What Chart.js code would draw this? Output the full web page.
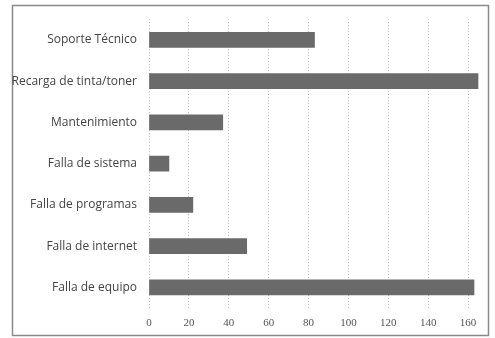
<!DOCTYPE html>
<html>
<head>
<meta charset="utf-8">
<script src="https://cdn.jsdelivr.net/npm/chart.js@4/dist/chart.umd.min.js"></script>
<style>
  html, body { margin: 0; padding: 0; background: #fff; }
  #wrap { position: relative; width: 495px; height: 338px; }
</style>
</head>
<body>
<div id="wrap"><canvas id="grafico" width="495" height="338"></canvas></div>
<script>
// categorias (de arriba hacia abajo)
var categorias = ["Soporte Técnico", "Recarga de tinta/toner", "Mantenimiento", "Falla de sistema", "Falla de programas", "Falla de internet", "Falla de equipo"];
// valores de cada categoria
var valores = [83, 165, 37, 10, 22, 49, 163];
// etiquetas del eje x
var ticksX = [0, 20, 40, 60, 80, 100, 120, 140, 160];

// marco alrededor del grafico
var marco = {
  id: 'marco',
  beforeDraw: function (chart) {
    var ctx = chart.ctx;
    ctx.save();
    ctx.fillStyle = '#fff';
    ctx.fillRect(0, 0, chart.width, chart.height);
    ctx.strokeStyle = '#8a8a8a';
    ctx.lineWidth = 1.5;
    ctx.strokeRect(12.5, 5.5, 476, 330);
    ctx.restore();
  }
};

var ctx = document.getElementById("grafico").getContext("2d");
var grafico = new Chart(ctx, {
  type: 'bar',
  data: {
    labels: categorias,
    datasets: [{
      data: valores,
      backgroundColor: '#6a6a6a',
      borderWidth: 0,
      barThickness: 15
    }]
  },
  options: {
    indexAxis: 'y',
    responsive: false,
    animation: false,
    layout: { padding: { left: 0, right: 15, top: 16, bottom: 0 } },
    plugins: {
      legend: { display: false },
      tooltip: { enabled: false }
    },
    scales: {
      x: {
        min: 0,
        max: 166,
        afterBuildTicks: function (axis) {
          axis.ticks = ticksX.map(function (v) { return { value: v }; });
        },
        afterFit: function (axis) { axis.height = 30; },
        grid: {
          color: '#b8b8b8',
          lineWidth: 1,
          drawTicks: false
        },
        border: { display: false, dash: [1, 2] },
        ticks: {
          padding: 9,
          color: '#555',
          font: { family: 'Liberation Serif', size: 11 }
        }
      },
      y: {
        afterFit: function (axis) { axis.width = 149; },
        grid: { display: false, drawTicks: false },
        border: { display: false },
        ticks: {
          padding: 12,
          color: '#444',
          font: { family: 'Open Sans', size: 12 }
        }
      }
    }
  },
  plugins: [marco]
});
</script>
</body>
</html>
